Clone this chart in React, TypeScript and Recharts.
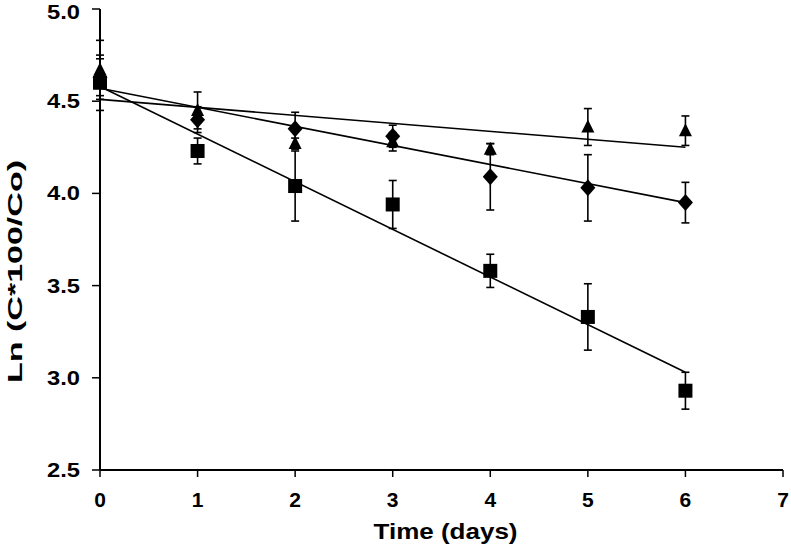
import { ComposedChart, ErrorBar, Label, Scatter, XAxis, YAxis } from "recharts";

const days = [0, 1, 2, 3, 4, 5, 6];
const squareVals = [4.6, 4.23, 4.04, 3.94, 3.58, 3.33, 2.93];
const squareErr = [0.15, 0.07, 0.19, 0.13, 0.09, 0.18, 0.1];
const diamondVals = [4.63, 4.4, 4.35, 4.31, 4.09, 4.03, 3.95];
const diamondErr = [0.1, 0.07, 0.09, 0.06, 0.18, 0.18, 0.11];
const triangleVals = [4.67, 4.45, 4.27, 4.28, 4.24, 4.36, 4.34];
const triangleErr = [0.16, 0.1, 0.03, 0.05, 0.03, 0.1, 0.08];

const trendDays = [0, 6];
const squareTrend = [4.58, 3.03];
const diamondTrend = [4.57, 3.95];
const triangleTrend = [4.51, 4.25];

const xTicks = [0, 1, 2, 3, 4, 5, 6, 7];
const yTicks = [2.5, 3.0, 3.5, 4.0, 4.5, 5.0];

const font = "'Liberation Sans', Arial, sans-serif";

const points = (vals: number[], errs: number[]) => days.map((d, i) => ({ x: d, y: vals[i], err: errs[i] }));
const trend = (vals: number[]) => trendDays.map((d, i) => ({ x: d, y: vals[i] }));

const Square = (p: any) => <rect x={p.cx - 7} y={p.cy - 7} width={14} height={14} fill="#000" />;
const Diamond = (p: any) => (
  <polygon points={`${p.cx},${p.cy - 8.5} ${p.cx + 7.5},${p.cy} ${p.cx},${p.cy + 8.5} ${p.cx - 7.5},${p.cy}`} fill="#000" />
);
const Triangle = (p: any) => (
  <polygon points={`${p.cx},${p.cy - 7.5} ${p.cx + 6.5},${p.cy + 5.5} ${p.cx - 6.5},${p.cy + 5.5}`} fill="#000" />
);
const NoDot = () => <g />;

// top label sits against the edge; nudge it down a little so it isn't clipped
const YTick = ({ x, y, payload }: any) => (
  <text x={x} y={Math.max(y, 12)} dy={7} textAnchor="end" textLength={33} lengthAdjust="spacingAndGlyphs" fontFamily={font} fontWeight="bold" fontSize={20} fill="#000">
    {payload.value.toFixed(1)}
  </text>
);

const XTick = ({ x, y, payload }: any) => (
  <text x={x} y={y} dy={15} textAnchor="middle" fontFamily={font} fontWeight="bold" fontSize={21} fill="#000">
    {payload.value}
  </text>
);

const YTitle = ({ viewBox }: any) => {
  const cx = 15;
  const cy = viewBox.y + viewBox.height / 2 + 32;
  return (
    <text x={cx} y={cy} transform={`rotate(-90 ${cx} ${cy})`} dy={7} textAnchor="middle" textLength={223} lengthAdjust="spacingAndGlyphs" fontFamily={font} fontWeight="bold" fontSize={21} fill="#000">
      Ln (C*100/Co)
    </text>
  );
};

const XTitle = ({ viewBox }: any) => {
  const cx = viewBox.x + viewBox.width / 2 + 4;
  return (
    <text x={cx} y={539} textAnchor="middle" textLength={144} lengthAdjust="spacingAndGlyphs" fontFamily={font} fontWeight="bold" fontSize={22} fill="#000">
      Time (days)
    </text>
  );
};

const lineStyle = { stroke: "#000", strokeWidth: 1.6 };

export default function App() {
  return (
    <div style={{ position: "absolute", left: 0, top: 0, background: "#fff" }}>
      <ComposedChart width={791} height={551} margin={{ top: 9, right: 8, bottom: 0, left: 0 }}>
        <XAxis
          type="number"
          dataKey="x"
          domain={[0, 7]}
          ticks={xTicks}
          interval={0}
          height={81}
          tick={<XTick />}
          tickSize={7}
          tickMargin={15}
          axisLine={{ stroke: "#000", strokeWidth: 2 }}
          tickLine={{ stroke: "#000", strokeWidth: 1.5 }}
        >
          <Label content={<XTitle />} />
        </XAxis>
        <YAxis
          type="number"
          dataKey="y"
          domain={[2.5, 5]}
          ticks={yTicks}
          interval={0}
          width={100}
          tick={<YTick />}
          tickSize={8}
          tickMargin={12}
          axisLine={{ stroke: "#000", strokeWidth: 2 }}
          tickLine={{ stroke: "#000", strokeWidth: 1.5 }}
        >
          <Label content={<YTitle />} />
        </YAxis>

        <Scatter data={trend(squareTrend)} line={lineStyle} lineType="joint" shape={<NoDot />} isAnimationActive={false} />
        <Scatter data={trend(diamondTrend)} line={lineStyle} lineType="joint" shape={<NoDot />} isAnimationActive={false} />
        <Scatter data={trend(triangleTrend)} line={lineStyle} lineType="joint" shape={<NoDot />} isAnimationActive={false} />

        <Scatter data={points(squareVals, squareErr)} shape={<Square />} isAnimationActive={false}>
          <ErrorBar dataKey="err" direction="y" width={4} stroke="#000" strokeWidth={1.6} isAnimationActive={false} />
        </Scatter>
        <Scatter data={points(diamondVals, diamondErr)} shape={<Diamond />} isAnimationActive={false}>
          <ErrorBar dataKey="err" direction="y" width={4} stroke="#000" strokeWidth={1.6} isAnimationActive={false} />
        </Scatter>
        <Scatter data={points(triangleVals, triangleErr)} shape={<Triangle />} isAnimationActive={false}>
          <ErrorBar dataKey="err" direction="y" width={4} stroke="#000" strokeWidth={1.6} isAnimationActive={false} />
        </Scatter>
      </ComposedChart>
    </div>
  );
}
